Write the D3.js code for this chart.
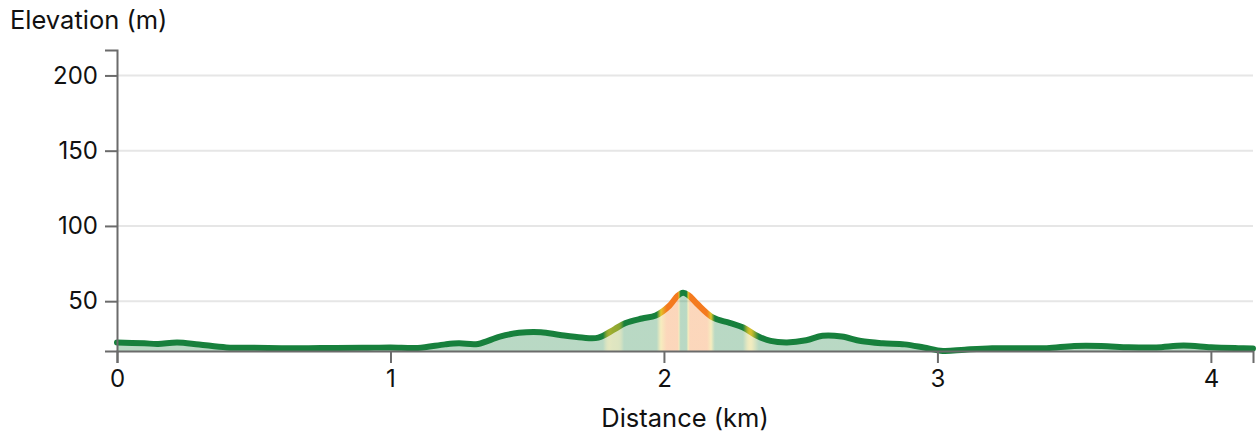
<!DOCTYPE html>
<html>
<head>
<meta charset="utf-8">
<script src="https://cdn.jsdelivr.net/npm/d3@7"></script>
<style>
  body { margin: 0; background: #fff; }
  svg { font-family: Inter, "Liberation Sans", sans-serif; }
</style>
</head>
<body>
<div id="chart"></div>
<script>
// distance along the route (km) and elevation (m)
const distances = [0, 0.1, 0.15, 0.22, 0.3, 0.4, 0.5, 0.6, 0.7, 0.8, 0.9, 1.0, 1.1, 1.2, 1.25, 1.32,
  1.4, 1.47, 1.55, 1.62, 1.7, 1.76, 1.82, 1.86, 1.92, 1.97, 2.02, 2.05, 2.07, 2.09, 2.12, 2.18,
  2.24, 2.29, 2.34, 2.39, 2.45, 2.52, 2.58, 2.65, 2.72, 2.8, 2.88, 2.95, 3.02, 3.1, 3.2, 3.3,
  3.4, 3.5, 3.6, 3.7, 3.8, 3.9, 4.0, 4.1, 4.154]
const elevations = [22.6, 22.0, 21.6, 22.6, 21.2, 19.3, 19.0, 18.8, 18.8, 18.9, 19.0, 19.3, 18.9, 21.3, 22.0, 21.6,
  26.5, 29.0, 29.4, 27.5, 25.8, 25.8, 31.5, 35.5, 38.5, 40.5, 47.0, 53.6, 55.6, 54.0, 48.5, 39.0,
  35.6, 32.5, 27.0, 23.6, 22.6, 24.0, 27.0, 26.5, 23.5, 22.0, 21.3, 19.2, 16.9, 17.8, 18.7, 18.8,
  18.8, 20.2, 20.2, 19.4, 19.3, 20.6, 19.4, 18.8, 18.6]
const xTicks = [0, 1, 2, 3, 4]
const yTicks = [50, 100, 150, 200]

const width = 1256
const height = 434
const margin = {top: 50, right: 3, bottom: 83, left: 117}

const data = distances.map((d, i) => ({ d: d, e: elevations[i] }))
const minE = d3.min(elevations)

const svg = d3.select('#chart')
  .append('svg')
  .attr('width', width)
  .attr('height', height)

const x = d3.scaleLinear()
  .domain([0, d3.max(distances)])
  .range([margin.left, width - margin.right])

const y = d3.scaleLinear()
  .domain([minE, minE + 200])
  .range([height - margin.bottom, margin.top])

// colour by steepness of the climb
const gradeColor = d3.scaleLinear()
  .domain([0.085, 0.12, 0.155])
  .range(['#17803c', '#e2c42a', '#f47a1f'])
  .clamp(true)

// grid lines
svg.append('g')
  .selectAll('line')
  .data(yTicks)
  .join('line')
    .attr('x1', x.range()[0])
    .attr('x2', x.range()[1])
    .attr('y1', d => y(d))
    .attr('y2', d => y(d))
    .attr('stroke', '#e6e6e6')
    .attr('stroke-width', 2)

const defs = svg.append('defs')
const grad = defs.append('linearGradient')
  .attr('id', 'grade')
  .attr('gradientUnits', 'userSpaceOnUse')
  .attr('x1', x.range()[0]).attr('x2', x.range()[1])
  .attr('y1', 0).attr('y2', 0)

const line = d3.line()
  .x(d => x(d.d))
  .y(d => y(d.e))
  .curve(d3.curveCatmullRom.alpha(0.5))

const area = d3.area()
  .x(d => x(d.d))
  .y0(y(minE))
  .y1(d => y(d.e))
  .curve(d3.curveCatmullRom.alpha(0.5))

svg.append('path')
  .datum(data)
  .attr('d', area)
  .attr('fill', 'url(#grade)')
  .attr('fill-opacity', 0.3)

const linePath = svg.append('path')
  .datum(data)
  .attr('d', line)
  .attr('fill', 'none')
  .attr('stroke', 'url(#grade)')
  .attr('stroke-width', 6)
  .attr('stroke-linecap', 'round')
  .attr('stroke-linejoin', 'round')

// sample the drawn curve to get the local grade
const node = linePath.node()
const total = node.getTotalLength()
const pts = d3.range(0, total, 1).map(l => node.getPointAtLength(l))
const k = 5
const span = x.range()[1] - x.range()[0]
pts.forEach((p, i) => {
  const a = pts[Math.max(0, i - k)]
  const b = pts[Math.min(pts.length - 1, i + k)]
  const run = (x.invert(b.x) - x.invert(a.x)) * 1000
  const rise = y.invert(b.y) - y.invert(a.y)
  const g = run > 0 ? Math.abs(rise / run) : 0
  grad.append('stop')
    .attr('offset', Math.max(0, Math.min(1, (p.x - x.range()[0]) / span)))
    .attr('stop-color', gradeColor(g))
})

function xAxis(g) {
  g.attr('transform', `translate(0, ${height - margin.bottom})`)
    .call(d3.axisBottom(x).tickValues(xTicks).tickSize(12).tickPadding(7).tickFormat(d3.format('d')))
  g.attr('font-size', '24px').attr('font-family', null)
}

function yAxis(g) {
  g.attr('transform', `translate(${margin.left}, 0)`)
    .call(d3.axisLeft(y).tickValues(yTicks).tickSize(12).tickPadding(7))
  g.attr('font-size', '24px').attr('font-family', null)
}

svg.append('g').call(xAxis)
svg.append('g').call(yAxis)
svg.selectAll('.domain, .tick line').attr('stroke', '#6b6b6b').attr('stroke-width', 2)
svg.selectAll('.tick text').attr('fill', '#111')

svg.append('text')
  .attr('x', 10)
  .attr('y', 29)
  .attr('font-size', '25.5px')
  .attr('fill', '#111')
  .text('Elevation (m)')

svg.append('text')
  .attr('x', (x.range()[0] + x.range()[1]) / 2)
  .attr('y', 427)
  .attr('text-anchor', 'middle')
  .attr('font-size', '25.5px')
  .attr('fill', '#111')
  .text('Distance (km)')
</script>
</body>
</html>
